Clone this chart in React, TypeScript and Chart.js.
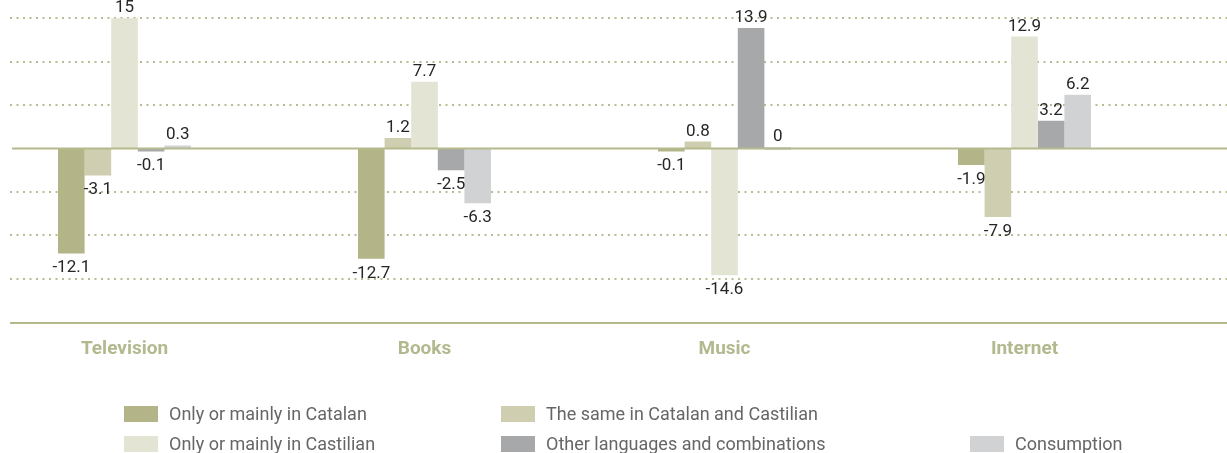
import React, { useEffect, useRef } from "react";
import { Chart, registerables } from "chart.js";

Chart.register(...registerables);

// ---- data ----
const categories = ["Television", "Books", "Music", "Internet"];
const seriesLabels = [
  "Only or mainly in Catalan",
  "The same in Catalan and Castilian",
  "Only or mainly in Castilian",
  "Other languages and combinations",
  "Consumption",
];
const catalan = [-12.1, -12.7, -0.1, -1.9];
const same = [-3.1, 1.2, 0.8, -7.9];
const castilian = [15, 7.7, -14.6, 12.9];
const other = [-0.1, -2.5, 13.9, 3.2];
const consumption = [0.3, -6.3, 0, 6.2];
const seriesValues = [catalan, same, castilian, other, consumption];
const seriesColors = ["#b3b588", "#cfceb0", "#e3e4d3", "#a7a8aa", "#d1d2d4"];
const yMin = -20;
const yMax = 17;
const yStep = 5;

// legend slots: [left, top] of the swatch
const legendSlots: [number, number][] = [
  [124, 405],
  [501, 405],
  [124, 435],
  [501, 435],
  [970, 435],
];

const LINE = "#b5b98c";
const DOT = "#b7bc92";
const CANVAS_SHIFT = 40;

const gridPlugin = {
  id: "customGrid",
  beforeDatasetsDraw(chart: any) {
    const { ctx } = chart;
    const y = chart.scales.y;
    const x0 = CANVAS_SHIFT + 10;
    const x1 = CANVAS_SHIFT + 1227;
    ctx.save();
    ctx.strokeStyle = DOT;
    ctx.lineWidth = 2;
    ctx.setLineDash([2, 4.5]);
    y.ticks.forEach((t: any) => {
      const v = t.value;
      if (v % yStep !== 0 || v === 0 || v === yMin) return;
      const py = Math.round(y.getPixelForValue(v));
      ctx.beginPath();
      ctx.moveTo(x0, py);
      ctx.lineTo(x1, py);
      ctx.stroke();
    });
    ctx.restore();
  },
  afterDatasetsDraw(chart: any) {
    const { ctx } = chart;
    const y = chart.scales.y;
    ctx.save();
    ctx.strokeStyle = LINE;
    ctx.lineWidth = 2;
    ctx.setLineDash([]);
    const z = y.getPixelForValue(0);
    ctx.beginPath();
    ctx.moveTo(CANVAS_SHIFT + 12, z);
    ctx.lineTo(CANVAS_SHIFT + 1227, z);
    ctx.stroke();
    const b = y.getPixelForValue(yMin) + 1;
    ctx.beginPath();
    ctx.moveTo(CANVAS_SHIFT + 10, b);
    ctx.lineTo(CANVAS_SHIFT + 1227, b);
    ctx.stroke();
    ctx.restore();

    // value labels
    ctx.save();
    ctx.font = "17px Roboto";
    ctx.fillStyle = "#262626";
    ctx.textAlign = "center";
    ctx.textBaseline = "alphabetic";
    chart.data.datasets.forEach((ds: any, di: number) => {
      const meta = chart.getDatasetMeta(di);
      meta.data.forEach((el: any, i: number) => {
        const v = ds.data[i];
        const top = Math.min(el.y, el.base);
        const bottom = Math.max(el.y, el.base);
        if (v >= 0) {
          ctx.fillText(String(v), el.x, top - 6);
        } else {
          ctx.fillText(String(v), el.x, bottom + 19);
        }
      });
    });
    ctx.restore();
  },
};

export default function App() {
  const ref = useRef<HTMLCanvasElement | null>(null);
  useEffect(() => {
    if (!ref.current) return;
    const chart = new Chart(ref.current, {
      type: "bar",
      data: {
        labels: categories,
        datasets: seriesValues.map((vals, i) => ({
          label: seriesLabels[i],
          data: vals,
          backgroundColor: seriesColors[i],
          borderWidth: 0,
          categoryPercentage: 0.4433,
          barPercentage: 1,
          minBarLength: 3,
        })),
      },
      options: {
        responsive: false,
        animation: false,
        layout: { padding: { left: 14.5, right: 65.5, top: 1, bottom: 0 } },
        plugins: { legend: { display: false }, tooltip: { enabled: false } },
        scales: {
          x: {
            grid: { display: false },
            border: { display: false },
            ticks: {
              color: "#b3b98e",
              font: { family: "Roboto", size: 19, weight: "bold" },
              padding: 8,
            },
            afterFit: (s: any) => {
              s.height = 131;
            },
          },
          y: {
            display: false,
            min: yMin,
            max: yMax,
            ticks: { stepSize: yStep },
          },
        },
      } as any,
      plugins: [gridPlugin],
    });
    return () => chart.destroy();
  }, []);

  return (
    <div
      style={{
        position: "absolute",
        left: 0,
        top: 0,
        width: 1227,
        height: 453,
        overflow: "hidden",
        background: "#fff",
      }}
    >
      <canvas
        ref={ref}
        width={1280}
        height={453}
        style={{ position: "absolute", left: -CANVAS_SHIFT, top: 0, width: 1280, height: 453 }}
      />
      {seriesLabels.map((lab, i) => (
        <div
          key={lab}
          style={{
            position: "absolute",
            left: legendSlots[i][0],
            top: legendSlots[i][1],
            height: 17,
            display: "flex",
            alignItems: "center",
            whiteSpace: "nowrap",
            fontFamily: "Roboto",
            fontSize: 18,
            color: "#666",
          }}
        >
          <span
            style={{
              display: "inline-block",
              width: 34,
              height: 16,
              background: seriesColors[i],
              marginRight: 11,
            }}
          />
          <span>{lab}</span>
        </div>
      ))}
    </div>
  );
}
